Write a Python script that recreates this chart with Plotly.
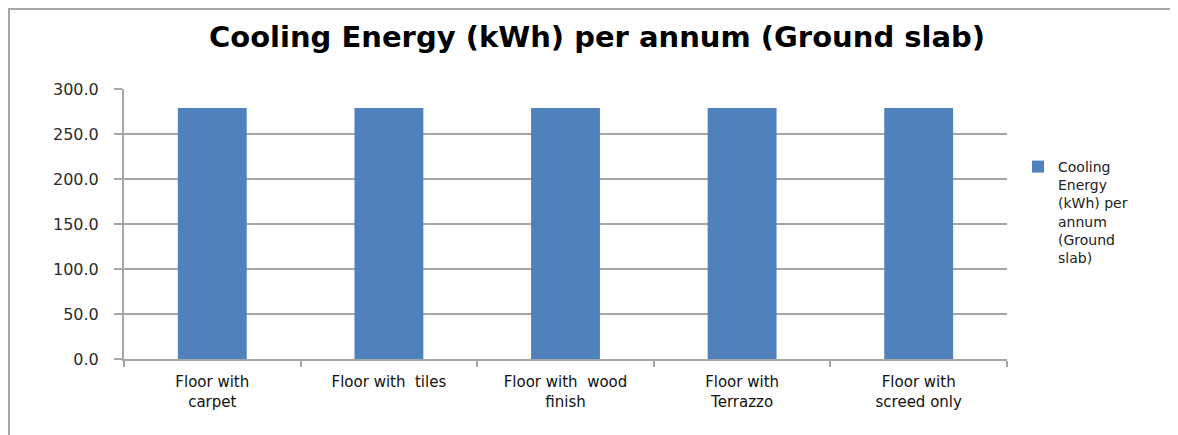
import plotly.graph_objects as go

categories = ["Floor with<br>carpet", "Floor with  tiles", "Floor with  wood<br>finish",
              "Floor with<br>Terrazzo", "Floor with<br>screed only"]
values = [279.0, 279.0, 279.0, 279.0, 279.0]
series_name = "Cooling<br>Energy<br>(kWh) per<br>annum<br>(Ground<br>slab)"
title_text = "Cooling Energy (kWh) per annum (Ground slab)"

OFF = 8  # page body margin
W, H = 1178 - OFF, 435 - OFF
L, R, T, B = 124 - OFF, 1007 - OFF, 89 - OFF, 359 - OFF
pw, ph = R - L, B - T

def px(x):
    return (x - OFF - L) / pw

def py(y):
    return (B - (y - OFF)) / ph

fig = go.Figure()
fig.add_trace(go.Bar(
    x=categories, y=values, name=series_name,
    marker=dict(color="#4F81BD", line=dict(width=0)),
    width=0.39,
))

fig.update_layout(
    width=W, height=H,
    margin=dict(l=L, r=W - R, t=T, b=H - B, pad=0),
    paper_bgcolor="white", plot_bgcolor="white",
    title=dict(text="<b>" + title_text + "</b>", x=(597 - OFF) / W, xanchor="center",
               y=1 - (37 - OFF) / H, yanchor="middle", yref="container",
               font=dict(family="DejaVu Sans", size=29, color="black")),
    showlegend=True,
    legend=dict(x=px(1018), xanchor="left", y=py(151), yanchor="top", valign="top",
                font=dict(family="DejaVu Sans", size=14, color="#222222"),
                bgcolor="rgba(0,0,0,0)", itemwidth=30, tracegroupgap=0),
    bargap=0.61,
)

fig.update_yaxes(
    range=[0, 300], dtick=50, tickformat=".1f",
    showgrid=True, gridcolor="#A6A6A6", gridwidth=1.5,
    showline=True, linecolor="#A6A6A6", linewidth=2,
    ticks="outside", ticklen=8, tickcolor="#A6A6A6", tickwidth=1.5,
    ticklabelstandoff=12,
    tickfont=dict(family="DejaVu Sans", size=16, color="#2b2b2b"),
    zeroline=False, fixedrange=True,
)
fig.update_xaxes(
    showline=True, linecolor="#A6A6A6", linewidth=2,
    ticks="outside", ticklen=6, tickcolor="#A6A6A6", tickwidth=1.5,
    tickson="boundaries", ticklabelstandoff=8,
    tickfont=dict(family="DejaVu Sans", size=15, color="#111111"),
    showgrid=False, fixedrange=True,
)

# outer chart border
fig.add_shape(type="rect", xref="paper", yref="paper",
              x0=px(9), x1=px(1185), y0=py(445), y1=py(9),
              line=dict(color="#A6A6A6", width=2), fillcolor="rgba(0,0,0,0)",
              layer="below")

fig.write_html("out.html")
